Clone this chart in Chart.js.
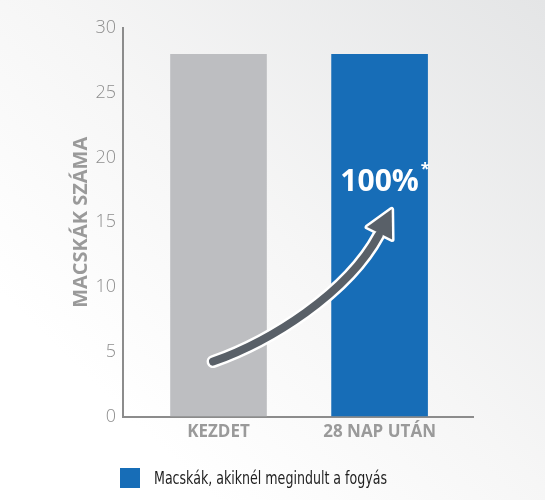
<!DOCTYPE html>
<html><head><meta charset="utf-8">
<script src="https://cdn.jsdelivr.net/npm/chart.js@4"></script>
<style>
html,body{margin:0;padding:0;background:#fff}
#wrap{position:relative;width:545px;height:500px}
#legend{position:absolute;left:120px;top:467px;display:flex;align-items:center;white-space:nowrap}
#legend .box{width:20px;height:20px;margin-right:14px;flex:none}
#legend .txt{font-family:"Liberation Sans Narrow","DejaVu Sans Condensed","Roboto",sans-serif;font-size:18px;color:#1e1e1e;transform-origin:left center;display:inline-block}
</style>
</head><body><div id="wrap"><canvas id="c" width="545" height="500"></canvas>
<div id="legend"><span class="box"></span><span class="txt"></span></div></div>
<script>
const categories = ['KEZDET', '28 NAP UTÁN'];
const values = [28, 28];
const seriesLabel = 'Macskák, akiknél megindult a fogyás';
const yTicks = [0, 5, 10, 15, 20, 25, 30];
const arrowPath = [[-0.034, 4.25], [0.32, 5.8], [0.8, 9.51], [1.0, 14.15]];
const arrowTip = [1.075, 16.0];
const badge = {x: 1.0, y: 18.1, text: '100%', sup: '*'};

const GRAY = '#bdbec1', BLUE = '#176db7', AXIS = '#8c8c8c';

const bgPlugin = {
  id: 'bg',
  beforeDraw(chart) {
    const ctx = chart.ctx, w = chart.width, h = chart.height;
    const g = ctx.createLinearGradient(w, 0, w * 0.25, h * 0.85);
    g.addColorStop(0, '#e4e5e6');
    g.addColorStop(0.6, '#f6f6f6');
    g.addColorStop(1, '#ffffff');
    ctx.save(); ctx.fillStyle = g; ctx.fillRect(0, 0, w, h); ctx.restore();
  }
};

const arrowPlugin = {
  id: 'arrow',
  afterDatasetsDraw(chart) {
    const xs = chart.scales.x, ys = chart.scales.y, ctx = chart.ctx;
    const P = arrowPath.map(p => [xs.getPixelForValue(p[0]), ys.getPixelForValue(p[1])]);
    const T = [xs.getPixelForValue(arrowTip[0]), ys.getPixelForValue(arrowTip[1])];
    const end = P[3];
    const dx = T[0] - end[0], dy = T[1] - end[1];
    const len = Math.hypot(dx, dy), ux = dx / len, uy = dy / len;
    const nx = -uy, ny = ux, hw = 14;
    const path = () => {
      ctx.beginPath();
      ctx.moveTo(P[0][0], P[0][1]);
      ctx.bezierCurveTo(P[1][0], P[1][1], P[2][0], P[2][1], end[0] - ux * 2, end[1] - uy * 2);
    };
    const head = () => {
      ctx.beginPath();
      ctx.moveTo(T[0], T[1]);
      ctx.lineTo(end[0] + nx * hw, end[1] + ny * hw);
      ctx.lineTo(end[0] - nx * hw, end[1] - ny * hw);
      ctx.closePath();
    };
    ctx.save();
    ctx.lineCap = 'round'; ctx.lineJoin = 'round';
    path(); ctx.strokeStyle = '#ffffff'; ctx.lineWidth = 13; ctx.stroke();
    head(); ctx.lineWidth = 5; ctx.stroke(); ctx.fillStyle = '#ffffff'; ctx.fill();
    path(); ctx.strokeStyle = '#596068'; ctx.lineWidth = 8; ctx.stroke();
    head(); ctx.fillStyle = '#596068'; ctx.fill();
    const bx = xs.getPixelForValue(badge.x), by = ys.getPixelForValue(badge.y);
    ctx.fillStyle = '#ffffff';
    ctx.font = 'bold 30px "Open Sans", sans-serif';
    ctx.textAlign = 'center'; ctx.textBaseline = 'middle';
    ctx.fillText(badge.text, bx, by);
    const tw = ctx.measureText(badge.text).width;
    ctx.font = 'bold 16px "Open Sans", sans-serif';
    ctx.textAlign = 'left';
    ctx.fillText(badge.sup, bx + tw / 2 + 2, by - 13);
    ctx.restore();
  }
};

const lg = document.getElementById('legend');
lg.querySelector('.box').style.background = BLUE;
const lt = lg.querySelector('.txt');
lt.textContent = seriesLabel;
const targetW = 233;
const natW = lt.getBoundingClientRect().width;
if (natW > 0) lt.style.transform = 'scaleX(' + (targetW / natW) + ')';

new Chart(document.getElementById('c'), {
  type: 'bar',
  data: {
    datasets: [{
      label: seriesLabel,
      data: values.map((v, i) => ({x: i, y: v})),
      backgroundColor: [GRAY, BLUE],
      borderWidth: 0,
      categoryPercentage: 1,
      barPercentage: 0.6
    }]
  },
  options: {
    responsive: false,
    animation: false,
    devicePixelRatio: 1,
    layout: {padding: {left: 69, right: 72, top: 28, bottom: 53}},
    scales: {
      x: {
        type: 'linear',
        offset: false,
        min: -0.593, max: 1.58,
        grid: {display: false, drawTicks: false, offset: false},
        border: {display: true, color: AXIS, width: 2},
        afterBuildTicks(s) { s.ticks = categories.map((c, i) => ({value: i})); },
        ticks: {
          callback: v => categories[v],
          color: '#9a9a9a',
          font: {family: '"Open Sans", sans-serif', weight: 'bold', size: 17},
          padding: 5, maxRotation: 0, autoSkip: false
        }
      },
      y: {
        min: 0, max: 30,
        afterBuildTicks(s) { s.ticks = yTicks.map(v => ({value: v})); },
        afterFit(s) { s.width = 54; },
        grid: {display: false, drawTicks: false},
        border: {display: true, color: AXIS, width: 2},
        ticks: {
          color: '#8e8e8e',
          font: {family: '"Open Sans", sans-serif', weight: '300', size: 18},
          padding: 7
        },
        title: {
          display: true, text: 'MACSKÁK SZÁMA', color: '#9a9a9a',
          font: {family: '"Open Sans", sans-serif', weight: 'bold', size: 20},
          padding: {top: 0, bottom: 0}
        }
      }
    },
    plugins: {
      tooltip: {enabled: false},
      legend: {display: false}
    }
  },
  plugins: [bgPlugin, arrowPlugin]
});
</script>
</body></html>
